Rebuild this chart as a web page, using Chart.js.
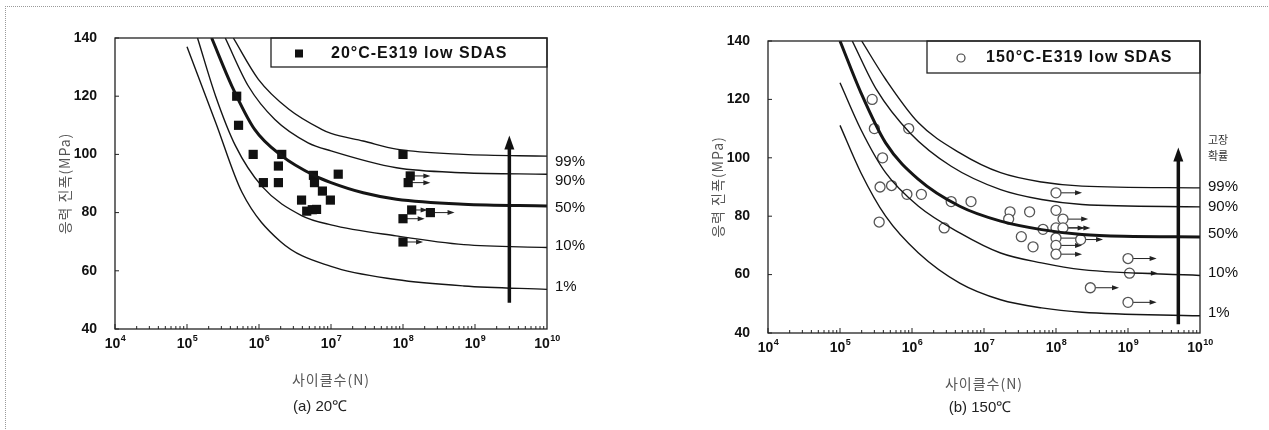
<!DOCTYPE html>
<html>
<head>
<meta charset="utf-8">
<script src="https://cdn.jsdelivr.net/npm/chart.js@4.4.0/dist/chart.umd.min.js"></script>
<style>
  html, body { margin: 0; padding: 0; background: #fff; }
  #wrap { position: relative; width: 1269px; height: 430px; overflow: hidden; }
  #frame { position: absolute; left: 5px; top: 6px; width: 1280px; height: 440px;
           border-top: 1px dotted #9a9a9a; border-left: 1px dotted #9a9a9a; }
  canvas { position: absolute; top: 0; }
</style>
</head>
<body>
<div id="wrap">
  <div id="frame"></div>
  <canvas id="c20" width="634" height="430" style="left:0px"></canvas>
  <canvas id="c150" width="635" height="430" style="left:634px"></canvas>
</div>
<script>
// ---- axis ticks (both panels) ----
const decades = [1e4, 1e5, 1e6, 1e7, 1e8, 1e9, 1e10];
const stressTicks = [40, 60, 80, 100, 120, 140];
const pctLabels = ['99%', '90%', '50%', '10%', '1%'];

// ---- (a) 20C: P-S-N curves (cycles, MPa) ----
const a99N = [4.4e5, 9.8e5, 2.6e6, 7.4e6, 1e7, 2.8e7, 8.1e7, 6.9e8, 1e10];
const a99S = [140, 125.8, 115.5, 108.6, 107.2, 104.6, 101.8, 100, 99.4];
const a90N = [3.4e5, 7.1e5, 1.66e6, 4.8e6, 1e7, 8.1e7, 6.9e8, 1e10];
const a90S = [140, 123.5, 112, 104, 101.2, 95.4, 93.7, 93.2];
const a50N = [2.2e5, 4.2e5, 8.7e5, 2.07e6, 6e6, 1e7, 2.8e7, 8.1e7, 6.9e8, 1e10];
const a50S = [140, 123.5, 108.6, 99.5, 92.6, 90.3, 86.8, 84.6, 82.9, 82.3];
const a10N = [1.4e5, 2.5e5, 4.7e5, 1.1e6, 3.9e6, 1e7, 8e7, 7e8, 1e10];
const a10S = [140, 120, 103, 89, 79, 75.8, 72, 69, 68];
const a01N = [1.0e5, 2.5e5, 5.8e5, 2.0e6, 1e7, 8e7, 7e8, 1e10];
const a01S = [137, 111, 87, 70, 61.5, 57, 54.8, 53.6];

// failures and run-outs (run-out arrows end at aRunEnd)
const aN = [4.9e5, 5.2e5, 8.3e5, 2.07e6, 1.86e6, 1.15e6, 1.86e6, 5.7e6, 5.9e6, 7.6e6, 9.8e6, 3.9e6, 4.6e6, 5.5e6, 6.3e6, 1.26e7, 1.0e8];
const aS = [120, 110, 100, 100, 96, 90.3, 90.3, 92.8, 90.3, 87.4, 84.3, 84.3, 80.5, 81, 81.1, 93.2, 100];
const aRunN = [1.26e8, 1.18e8, 1.32e8, 2.4e8, 1.0e8, 1.0e8];
const aRunS = [92.6, 90.3, 80.9, 80, 77.9, 69.9];
const aRunEnd = [2.4e8, 2.4e8, 2.2e8, 5.2e8, 2.0e8, 1.9e8];
const aPctAt = [97.6, 91, 81.8, 68.4, 54.6];
const aArrowN = 3.0e9, aArrowS = [49, 106.5];

// ---- (b) 150C ----
const b99N = [2e5, 4.3e5, 1.23e6, 4.6e6, 1.7e7, 6.3e7, 2.3e8, 1e10];
const b99S = [140, 126.9, 112, 101.7, 94.9, 91.7, 90.3, 89.7];
const b90N = [1.48e5, 3.2e5, 9.3e5, 3.5e6, 1.7e7, 6.3e7, 2.3e8, 1e10];
const b90S = [140, 123.4, 108.6, 97.1, 89.1, 85.7, 84, 83.2];
const b50N = [1e5, 1.95e5, 4.3e5, 1.23e6, 4.6e6, 1.7e7, 6.3e7, 2.3e8, 8.7e8, 1e10];
const b50S = [140, 122.3, 105.1, 92.6, 83.4, 78.3, 75.4, 73.7, 73.1, 72.9];
const b10N = [1e5, 1.95e5, 4.3e5, 1.23e6, 4.6e6, 1.7e7, 6.3e7, 2.3e8, 1e10];
const b10S = [125.7, 109.7, 94.9, 83.4, 74.3, 67.4, 64, 61.7, 59.7];
const b01N = [1e5, 1.95e5, 4.3e5, 1.23e6, 4.6e6, 1.7e7, 6.3e7, 2.3e8, 1e10];
const b01S = [111.1, 94.9, 80, 67.4, 57.1, 51.4, 48.6, 47.1, 45.9];

const bN = [2.8e5, 3.0e5, 3.9e5, 9e5, 3.6e5, 5.2e5, 8.5e5, 1.35e6, 3.5e5, 3.5e6, 6.6e6, 2.8e6, 2.3e7, 2.2e7, 4.3e7, 3.3e7, 4.8e7, 6.6e7, 1.0e8];
const bS = [120, 110, 100, 110, 90, 90.5, 87.5, 87.5, 78, 85, 85, 76, 81.5, 79, 81.5, 73, 69.5, 75.5, 82];
const bRunN = [1.0e8, 1.25e8, 1.0e8, 1.25e8, 1.0e8, 2.2e8, 1.0e8, 1.0e8, 1.0e9, 1.05e9, 3.0e8, 1.0e9];
const bRunS = [88, 79, 76, 76, 72.5, 72, 70, 67, 65.5, 60.5, 55.5, 50.5];
const bRunEnd = [2.3e8, 2.8e8, 2.5e8, 3e8, 2.4e8, 4.5e8, 2.3e8, 2.3e8, 2.5e9, 2.6e9, 7.5e8, 2.5e9];
const bPctAt = [90.1, 83.3, 73.9, 60.6, 47];
const bArrowN = 5.0e9, bArrowS = [43, 103.5];

const pts = (n, s) => n.map((v, i) => ({ x: v, y: s[i] }));
const KR = '"Noto Sans CJK KR", sans-serif';
const LS = '"Liberation Sans", Arial, sans-serif';

function line(ctx, x0, y0, x1, y1) {
  ctx.beginPath(); ctx.moveTo(x0, y0); ctx.lineTo(x1, y1); ctx.stroke();
}

function makeDecor(o) {
  return {
    id: 'decor',
    beforeDatasetsDraw(chart) {
      const { ctx } = chart, x = chart.scales.x, y = chart.scales.y;
      ctx.save();
      ctx.strokeStyle = '#222'; ctx.fillStyle = '#222'; ctx.lineWidth = 1;
      o.runN.forEach((n, i) => {
        const x0 = x.getPixelForValue(n), x1 = x.getPixelForValue(o.runEnd[i]);
        const yy = y.getPixelForValue(o.runS[i]);
        line(ctx, x0, yy, x1 - 5, yy);
        ctx.beginPath(); ctx.moveTo(x1, yy); ctx.lineTo(x1 - 7, yy - 2.5); ctx.lineTo(x1 - 7, yy + 2.5);
        ctx.closePath(); ctx.fill();
      });
      ctx.restore();
    },
    afterDraw(chart) {
      const { ctx } = chart, a = chart.chartArea, x = chart.scales.x, y = chart.scales.y;
      ctx.save();
      // frame + inner ticks
      ctx.strokeStyle = '#222'; ctx.lineWidth = 1.3;
      ctx.strokeRect(a.left, a.top, a.right - a.left, a.bottom - a.top);
      ctx.lineWidth = 1;
      for (let d = 4; d < 10; d++) {
        for (let m = 1; m < 10; m++) {
          const px = x.getPixelForValue(m * Math.pow(10, d));
          line(ctx, px, a.bottom, px, a.bottom - (m === 1 ? 5 : 3));
        }
      }
      stressTicks.forEach(v => {
        const py = y.getPixelForValue(v);
        line(ctx, a.left, py, a.left + 4, py);
      });

      // x tick labels as 10 with raised exponent
      ctx.fillStyle = '#111'; ctx.textAlign = 'left'; ctx.textBaseline = 'alphabetic';
      decades.forEach(v => {
        const px = x.getPixelForValue(v), e = String(Math.round(Math.log10(v)));
        ctx.font = 'bold 14px ' + LS;
        const w1 = ctx.measureText('10').width;
        ctx.font = 'bold 9px ' + LS;
        const w2 = ctx.measureText(e).width;
        const x0 = px - (w1 + w2) / 2;
        ctx.font = 'bold 14px ' + LS;
        ctx.fillText('10', x0, a.bottom + 19);
        ctx.font = 'bold 9px ' + LS;
        ctx.fillText(e, x0 + w1 + 0.5, a.bottom + 12);
      });

      // big probability arrow
      const ax = x.getPixelForValue(o.arrowN);
      const yb = y.getPixelForValue(o.arrowS[0]), yt = y.getPixelForValue(o.arrowS[1]);
      ctx.strokeStyle = '#111'; ctx.fillStyle = '#111'; ctx.lineWidth = 3.5;
      line(ctx, ax, yb, ax, yt + 10);
      ctx.beginPath(); ctx.moveTo(ax, yt); ctx.lineTo(ax - 5, yt + 14); ctx.lineTo(ax + 5, yt + 14);
      ctx.closePath(); ctx.fill();

      // percentile labels
      ctx.fillStyle = '#111'; ctx.textAlign = 'left'; ctx.textBaseline = 'middle';
      ctx.font = '15px ' + LS;
      pctLabels.forEach((t, i) => ctx.fillText(t, a.right + 8, y.getPixelForValue(o.pctAt[i])));
      if (o.probText) {
        ctx.font = '11px ' + KR; ctx.fillStyle = '#333'; ctx.textAlign = 'center';
        ctx.fillText(o.probText[0], a.right + 18, 140);
        ctx.fillText(o.probText[1], a.right + 18, 156);
      }

      // legend box
      const lx = a.right - o.legendW, lh = o.legendH;
      ctx.strokeStyle = '#222'; ctx.lineWidth = 1.3;
      ctx.strokeRect(lx, a.top, o.legendW, lh);
      const my = a.top + lh / 2 + 1;
      if (o.filled) {
        ctx.fillStyle = '#111'; ctx.fillRect(lx + 24, my - 4, 8, 8);
      } else {
        ctx.strokeStyle = '#444'; ctx.lineWidth = 1.2;
        ctx.beginPath(); ctx.arc(lx + 34, my, 4, 0, Math.PI * 2); ctx.stroke();
      }
      ctx.fillStyle = '#111'; ctx.textAlign = 'left';
      ctx.font = 'bold 16px ' + LS;
      ctx.letterSpacing = '1px';
      ctx.fillText(o.legend, lx + o.legendTextDx, my);

      // axis titles and caption
      ctx.fillStyle = '#555'; ctx.textAlign = 'center';
      ctx.font = '14px ' + KR;
      ctx.letterSpacing = '1px';
      ctx.fillText('사이클수(N)', (a.left + a.right) / 2, a.bottom + 51);
      ctx.save();
      ctx.translate(a.left - 50, (a.top + a.bottom) / 2);
      ctx.rotate(-Math.PI / 2);
      ctx.fillText('응력 진폭(MPa)', 0, 0);
      ctx.restore();
      ctx.letterSpacing = '0px';
      ctx.fillStyle = '#222';
      ctx.font = '15px ' + LS;
      ctx.fillText(o.caption, (a.left + a.right) / 2 + o.capDx, a.bottom + o.capDy);
      ctx.restore();
    }
  };
}

function buildChart(id, o) {
  const datasets = o.curves.map(c => ({
    data: pts(c[0], c[1]), showLine: true, borderColor: '#151515',
    borderWidth: c[2] ? 3 : 1.4, pointRadius: 0, cubicInterpolationMode: 'monotone', fill: false
  }));
  const marker = o.filled
    ? { pointStyle: 'rect', pointRadius: 6.5, backgroundColor: '#111', borderColor: '#111', borderWidth: 0 }
    : { pointStyle: 'circle', pointRadius: 5, backgroundColor: '#fff', borderColor: '#555', borderWidth: 1.3 };
  datasets.push(Object.assign({ data: pts(o.runN, o.runS), showLine: false }, marker));
  datasets.push(Object.assign({ data: pts(o.n, o.s), showLine: false }, marker));

  return new Chart(document.getElementById(id), {
    type: 'scatter',
    data: { datasets },
    options: {
      responsive: false,
      animation: false,
      layout: { padding: { left: 0, top: o.padTop, right: o.padRight, bottom: o.padBottom } },
      plugins: { legend: { display: false }, tooltip: { enabled: false } },
      scales: {
        x: {
          type: 'logarithmic', min: 1e4, max: 1e10,
          grid: { display: false }, border: { display: false },
          afterBuildTicks: s => { s.ticks = decades.map(v => ({ value: v })); },
          afterFit: s => { s.height = 30; },
          ticks: { display: false }
        },
        y: {
          min: 40, max: 140,
          grid: { display: false }, border: { display: false },
          afterFit: s => { s.width = o.yWidth; },
          afterBuildTicks: s => { s.ticks = stressTicks.map(v => ({ value: v })); },
          ticks: {
            padding: 10, color: '#111',
            font: { family: LS, size: 14, weight: 'bold' }
          }
        }
      }
    },
    plugins: [makeDecor(o)]
  });
}

buildChart('c20', {
  curves: [[a99N, a99S], [a90N, a90S], [a50N, a50S, true], [a10N, a10S], [a01N, a01S]],
  n: aN, s: aS, runN: aRunN, runS: aRunS, runEnd: aRunEnd,
  pctAt: aPctAt, arrowN: aArrowN, arrowS: aArrowS, filled: true,
  legend: '20°C-E319 low SDAS', legendW: 276, legendH: 29, legendTextDx: 60,
  caption: '(a) 20℃', capDx: -11, capDy: 78,
  yWidth: 115, padTop: 38, padRight: 87, padBottom: 71
});

buildChart('c150', {
  curves: [[b99N, b99S], [b90N, b90S], [b50N, b50S, true], [b10N, b10S], [b01N, b01S]],
  n: bN, s: bS, runN: bRunN, runS: bRunS, runEnd: bRunEnd,
  pctAt: bPctAt, arrowN: bArrowN, arrowS: bArrowS, filled: false,
  probText: ['고장', '확률'],
  legend: '150°C-E319 low SDAS', legendW: 273, legendH: 32, legendTextDx: 59,
  caption: '(b) 150℃', capDx: -4, capDy: 75,
  yWidth: 134, padTop: 41, padRight: 69, padBottom: 67
});
</script>
</body>
</html>
